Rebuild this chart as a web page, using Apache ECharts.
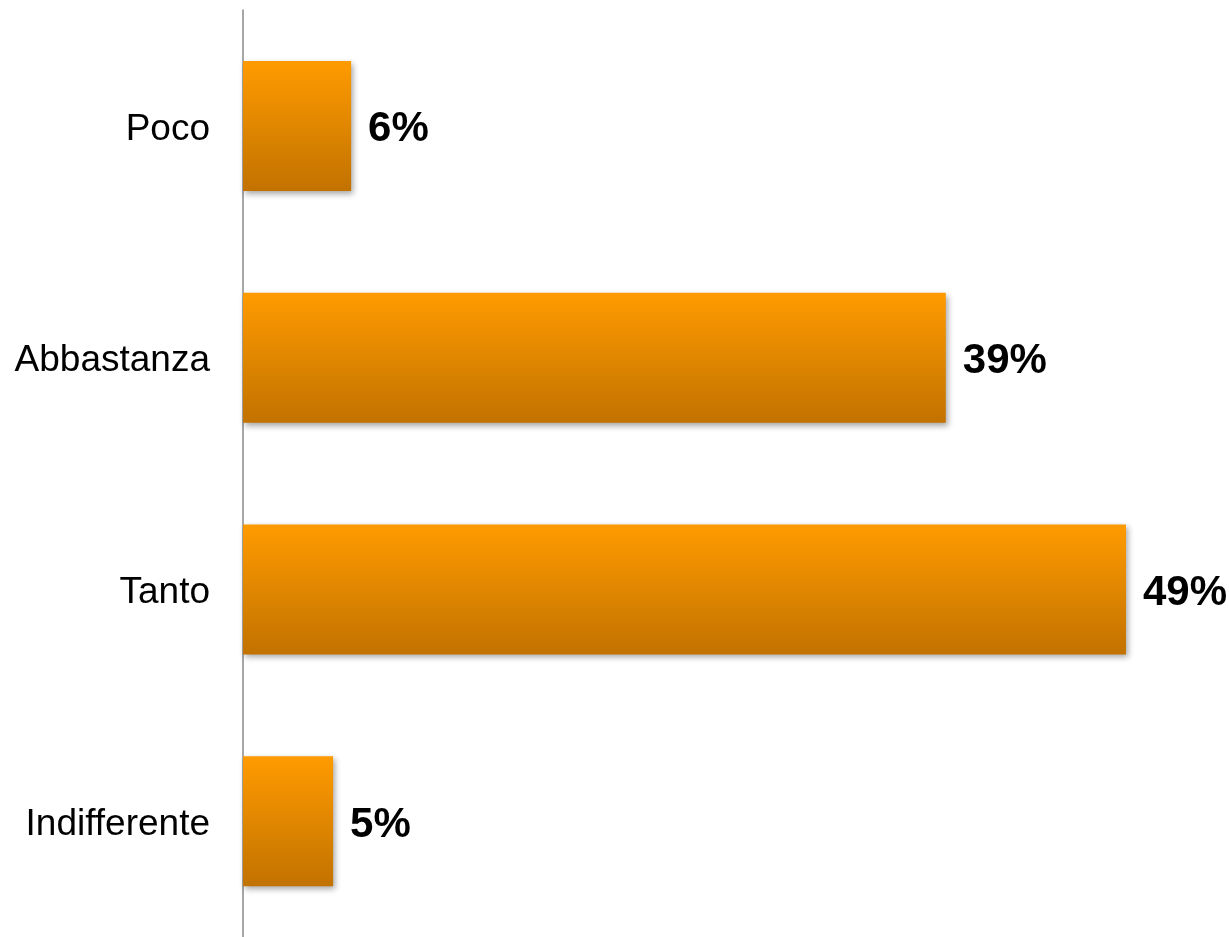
<!DOCTYPE html>
<html>
<head>
<meta charset="utf-8">
<script src="https://cdn.jsdelivr.net/npm/echarts@6/dist/echarts.min.js"></script>
<style>
html,body{margin:0;padding:0;background:#fff;}
#chart{width:1229px;height:937px;}
</style>
</head>
<body>
<div id="chart"></div>
<script>
var categories = ['Poco', 'Abbastanza', 'Tanto', 'Indifferente'];
var values = [6, 39, 49, 5];

var chart = echarts.init(document.getElementById('chart'));
chart.setOption({
  backgroundColor: '#ffffff',
  animation: false,
  grid: { left: 243, right: 85, top: 10, height: 931, containLabel: false },
  xAxis: {
    type: 'value', min: 0, max: 50, show: false
  },
  yAxis: {
    type: 'category',
    data: categories,
    inverse: true,
    axisLine: { show: true, lineStyle: { color: '#8a8a8a', width: 1.5 } },
    axisTick: { show: false },
    axisLabel: {
      margin: 33,
      formatter: '{a|{value}}',
      rich: {
        a: {
          padding: [7, 0, 0, 0],
          fontFamily: 'Liberation Sans, Arial, sans-serif',
          fontSize: 37,
          color: '#000'
        }
      }
    }
  },
  series: [{
    type: 'bar',
    data: values,
    barWidth: 130,
    itemStyle: {
      color: new echarts.graphic.LinearGradient(0, 0, 0, 1, [
        { offset: 0, color: '#FF9B00' },
        { offset: 1, color: '#C27200' }
      ]),
      shadowColor: 'rgba(0,0,0,0.35)',
      shadowBlur: 6,
      shadowOffsetX: 2,
      shadowOffsetY: 3
    },
    label: {
      show: true,
      position: 'right',
      distance: 17,
      offset: [0, 4],
      formatter: '{c}%',
      fontFamily: 'Liberation Sans, Arial, sans-serif',
      fontSize: 42,
      fontWeight: 'bold',
      color: '#000'
    }
  }]
});
</script>
</body>
</html>
